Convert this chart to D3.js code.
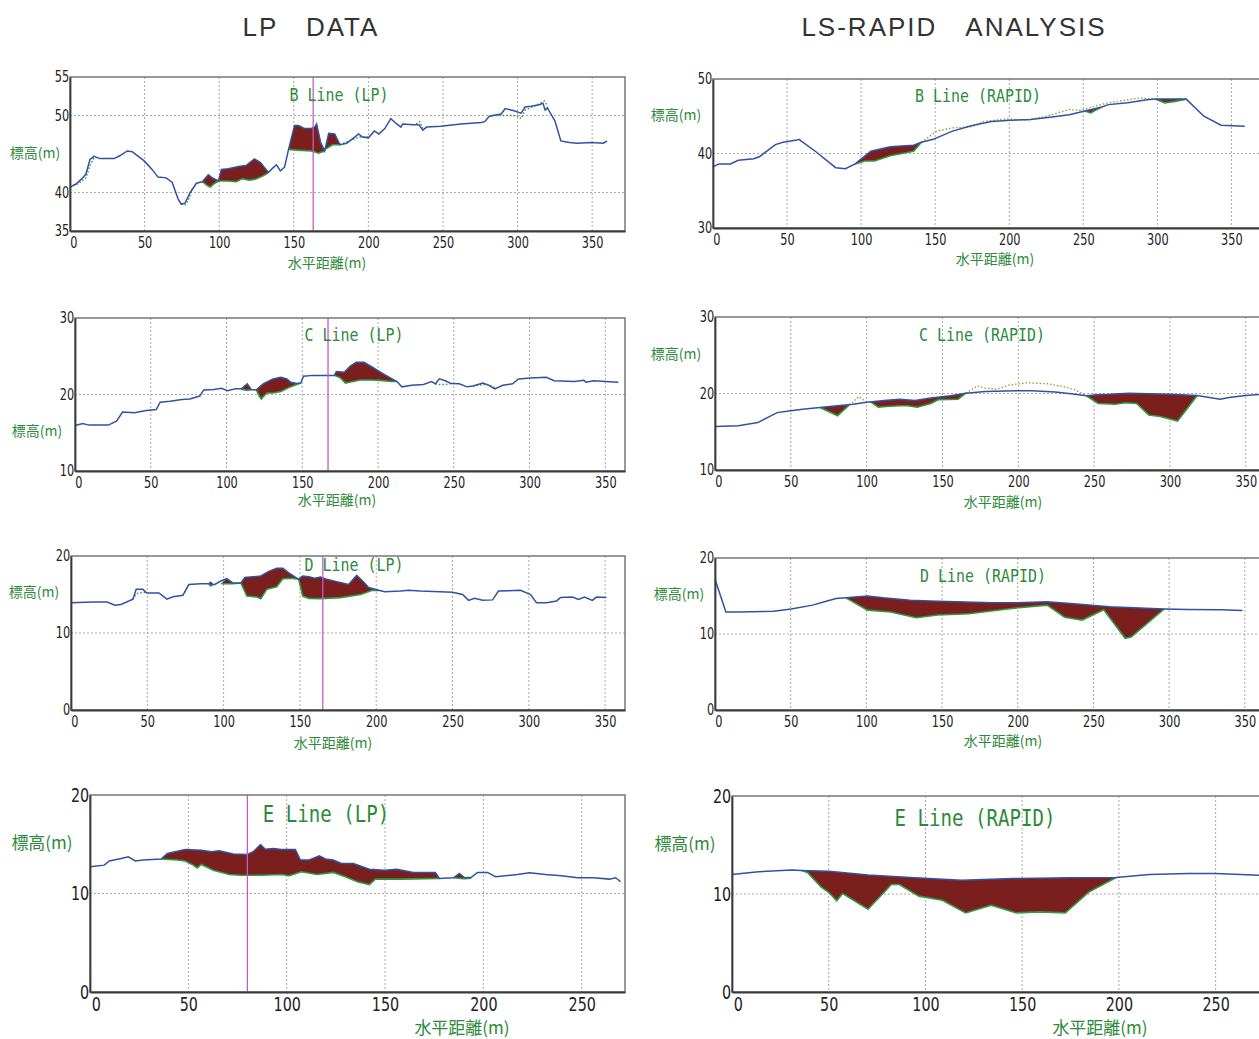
<!DOCTYPE html>
<html>
<head>
<meta charset="utf-8">
<script src="https://cdn.jsdelivr.net/npm/d3@7"></script>
<style>
  body { margin: 0; background: #fff; }
</style>
</head>
<body>
<div id="chart"></div>
<script>
// ---- data (distance m, elevation m) ----
const headings = ["LP\u3000DATA", "LS-RAPID\u3000ANALYSIS"];
const panelTitles = ["B Line (LP)", "B Line (RAPID)", "C Line (LP)", "C Line (RAPID)",
                     "D Line (LP)", "D Line (RAPID)", "E Line (LP)", "E Line (RAPID)"];

const xTicksLong = [0, 50, 100, 150, 200, 250, 300, 350];
const xTicksShort = [0, 50, 100, 150, 200, 250];
const yTicksBLp = [35, 40, 50, 55];
const yTicksBRapid = [30, 40, 50];
const yTicksC = [10, 20, 30];
const yTicksDE = [0, 10, 20];

// B line, LP
const bLpSurface = [[0,40.7],[4,41.1],[8,41.8],[10.7,42.4],[13.4,44.3],[16,44.7],[20,44.4],[29.6,44.4],[33.6,44.8],[38.4,45.4],[41.7,45.3],[49.7,44.1],[55,43],[59,42],[64.5,41.9],[68.5,41.3],[72.6,39.1],[74.5,38.5],[77,38.6],[80.6,40],[84.7,41.2],[88.7,41.4],[92.7,42.3],[95.4,41.9],[99.5,41.5],[101.5,43],[106,43.1],[111.5,43.3],[114,43.4],[118,43.5],[123.6,44.35],[127.7,43.9],[133,42.6],[136,43.2],[138.4,43.6],[141,42.8],[143.8,43.3],[146.5,45.6],[150.5,48.7],[153.2,48.7],[157.3,48.3],[161.3,48.3],[164,48.5],[165.3,48.9],[168,46.5],[170.7,45.4],[173.4,47.7],[177.4,47.6],[181,46.2],[185.5,46.4],[189.5,47],[193.5,47.6],[196,47.2],[200,47.1],[204,48],[207,47.6],[211,48.3],[215,49.6],[219,48.9],[221.8,48.5],[223,48.9],[229.8,48.8],[233.9,48.8],[236.5,48.1],[239,48.5],[248.6,48.6],[262,48.9],[275.5,49.1],[278,49.2],[281,49.9],[289,50.2],[291.7,50.9],[297,50.65],[302.4,50.3],[305,51.1],[309,51.2],[314.5,51.4],[317,51.6],[318.5,50.7],[320,51],[321,50.65],[325,49.3],[329,46.7],[334.7,46.5],[340,46.4],[349.4,46.5],[357.5,46.4],[360,46.7]];
const bLpBase = [
  [[88.7,41.4],[92,40.9],[94,40.7],[97,41.2],[99.5,41.5]],
  [[99.5,41.5],[106,41.5],[111.5,41.4],[115.5,41.8],[120,41.6],[123.6,41.7],[127.7,42],[131.6,42.4],[133,42.6]],
  [[146.5,45.6],[152,45.5],[162,45.4],[166.6,45.1],[170.7,45.4]],
  [[171,45.6],[176,46.2],[181,46.2]]
];
const bLpGround = [
  [[0,40.7],[6,41.2],[10.7,41.9],[13.4,43.5],[16,44.5]],
  [[74.5,38.5],[77.5,38.4],[80,39.3],[82,40.5]],
  [[181,46.2],[185.5,46.6],[190,46.9],[193.5,47.2],[200,47.2]],
  [[232,48.9],[234.5,49.2],[236.5,48.3]],
  [[283,50],[289,50],[297,50],[300,49.9],[302.4,49.6],[305,50.7],[314.5,51.5],[318,51.9],[320,51.2]]
];

// B line, RAPID
const bRapidSurface = [[0,38.2],[3.9,38.6],[11.8,38.6],[17.1,39.1],[27.6,39.3],[31.6,39.6],[42.1,41.2],[47.3,41.5],[56.5,41.8],[58,41.9],[69.7,40.2],[82.8,38.1],[89.4,37.95],[96,38.6],[106.5,40.3],[119.7,40.9],[135.4,41.1],[140.7,41.5],[148.6,41.9],[161.7,43],[175,43.75],[188,44.3],[201,44.46],[214.3,44.55],[227.5,44.87],[240.6,45.2],[251,45.7],[262,46.2],[267,46.56],[280,46.8],[293,47.2],[298.5,47.3],[319.5,47.3],[331.4,45],[343,43.8],[359,43.66]];
const bRapidBase = [
  [[96,38.6],[102.5,39],[109,39],[119.7,39.7],[135.4,40.3],[140.7,41.5]],
  [[251,45.7],[255,45.45],[262,46.2]],
  [[298.5,47.3],[305,46.8],[312,47],[319.5,47.3]]
];
const bRapidOriginal = [
  [[140.7,41.5],[151,43],[161.7,43.44],[175,43.6],[182.8,44.3],[198.6,44.64],[211.7,44.46],[224.9,45],[240.6,45.9],[248,45.8],[261.7,46.56],[267,46.8],[288,47.45],[298.5,47.3]]
];

// C line, LP
const cLpSurface = [[0,15.96],[5.2,16.2],[9,16],[22,16],[27.4,16.5],[31.4,17.7],[39.2,17.6],[47,17.9],[53.6,18.04],[56.2,19],[62.7,19.13],[70.6,19.35],[75.8,19.4],[82.3,19.8],[85,20.6],[91.5,20.65],[96.7,20.8],[100.6,20.5],[105.9,20.74],[109.8,20.74],[113.7,21.4],[116.3,20.65],[119.7,20.6],[124.2,21.4],[130.7,22.04],[135.9,22.26],[139.8,22.04],[142.5,21.6],[146.4,21.43],[149,21.5],[150.8,22.4],[156.8,22.5],[164.7,22.5],[171.2,22.5],[172.5,23],[177.7,22.9],[181.7,23.7],[185.6,24.2],[190.8,24.2],[196,23.6],[202.6,22.8],[207.8,22.2],[212.5,21.7],[215.7,21],[222.2,21.2],[230,21.3],[235.3,21.7],[237.9,21.4],[240.5,22.04],[244.4,21.8],[248.3,21.43],[253.6,21.4],[258.8,21],[262.7,21.1],[269.2,21.5],[273.2,21.2],[277,20.74],[282.3,21.2],[288.8,21.4],[292.7,22.04],[300.6,22.17],[311,22.26],[316.3,21.8],[329.4,21.7],[335.9,21.87],[337.2,21.6],[342.4,21.8],[350.3,21.7],[358.6,21.6]];
const cLpBase = [
  [[109.8,20.7],[113,20.55],[116.3,20.6]],
  [[119.7,20.6],[121.6,19.8],[123,19.4],[124.2,19.7],[126.8,20.2],[130.7,20.2],[135.9,20.4],[141,20.9],[146.4,21.3],[149,21.5]],
  [[171.2,22.5],[175,22.2],[178.5,21.5],[183.5,21.7],[188,21.9],[196,21.9],[201,21.85],[209,21.7],[212.5,21.7]]
];
const cLpGround = [
  [[237.9,21.4],[240.5,21.3],[244.4,21.3],[248.3,21.43]],
  [[262.7,21.1],[269.2,21.3],[273.2,21.3],[277,20.9]]
];

// C line, RAPID
const cRapidSurface = [[0,15.7],[15.4,15.8],[28.2,16.2],[41,17.5],[48.7,17.7],[57.7,17.95],[69.2,18.17],[80.8,18.4],[91,18.6],[100,18.86],[111.5,19.08],[121.8,19.25],[132,19.08],[142.3,19.4],[155.1,19.7],[165.4,20.04],[178.2,20.26],[198.7,20.35],[209,20.35],[224.4,20.2],[234.6,19.96],[244.9,19.7],[252,19.85],[260,19.9],[273,20.04],[286,19.96],[300,19.9],[318,19.74],[325,19.5],[333,19.25],[340,19.5],[350,19.75],[362,19.9]];
const cRapidBase = [
  [[69.2,18.17],[80.8,17.1],[88.5,18.5]],
  [[102.6,18.9],[107.7,18.2],[112.8,18.3],[121.8,18.4],[126.9,18.4],[133.3,18.2],[142.3,18.7],[147.4,19.2],[160.3,19.25],[165.4,20.04]],
  [[244.9,19.7],[252.6,18.7],[264,18.6],[270.5,18.8],[278,18.7],[286,17.2],[293.6,17],[305,16.4],[318,19.74]]
];
const cRapidOriginal = [
  [[88.5,18.5],[94.9,19.6],[100,18.86]],
  [[165.4,20.04],[173,21],[178.2,20.7],[185.9,20.57],[193.6,21.1],[206.4,21.4],[219.2,21.27],[229.5,20.9],[237.2,20.5],[244.9,19.7]]
];

// D line, LP
const dLpSurface = [[0,13.94],[14.4,14.03],[23.6,14.03],[28.8,13.6],[32.7,13.7],[40.6,14.4],[42.7,15.67],[47.1,15.67],[49.7,15.2],[57.6,15.2],[62.8,14.4],[66.8,14.7],[73.3,14.9],[77.2,16.3],[85.1,16.4],[90.3,16.4],[91.5,16.6],[93,16.3],[94.2,16.3],[98.2,16.75],[102.1,17.05],[106,16.5],[111.3,16.5],[113.9,17.2],[124.4,17.4],[129.6,18],[134.8,18.4],[138.8,18.4],[142.7,17.8],[149.2,16.97],[151.8,17.4],[155.8,17.3],[159.7,17.1],[163.6,17.27],[167.6,16.97],[174.1,16.67],[181.9,16.3],[187.2,17.5],[191.1,16.75],[195,15.9],[201.6,15.54],[205.5,15.37],[216,15.45],[221.2,15.55],[229,15.45],[250,15.3],[256.6,15],[260.5,14.24],[264.4,14.5],[269.7,14.24],[276.2,14.3],[280.1,15.45],[294.5,15.54],[301.1,15],[305,13.94],[311.5,13.94],[318.1,14.15],[320.7,14.6],[328.6,14.67],[332.5,14.37],[336.4,14.67],[341.6,14.24],[344.3,14.67],[350.8,14.6]];
const dLpBase = [
  [[90.3,16.4],[91.5,16.1],[93,16.3]],
  [[98.2,16.4],[106,16.4],[111.3,16.5]],
  [[111.3,16.5],[115.2,14.8],[121.7,14.67],[124.4,14.46],[128.3,15.67],[134.8,16],[138.8,17.05],[144,17.1],[149.2,16.97]],
  [[149.2,16.97],[151.8,14.8],[155.8,14.5],[163.6,14.46],[176.6,14.6],[189.8,15],[197.5,15.54],[201.6,15.54]]
];
const dLpGround = [
  [[40.6,14.4],[42.7,15.1],[47.1,15.3],[49.7,15.2]],
  [[73.3,14.9],[75,15.4],[77.2,16.3]]
];

// D line, RAPID
const dRapidSurface = [[0,17.2],[7.2,12.9],[15.5,12.9],[38.7,13],[50.3,13.3],[64.5,13.8],[72.3,14.24],[80,14.67],[86.5,14.76],[100.7,15],[111,14.76],[129,14.45],[147.1,14.3],[183.2,14.1],[198.7,14.1],[219.4,14.24],[234.9,14],[260.7,13.58],[296.8,13.3],[312.3,13.23],[334.2,13.19],[348.4,13.1]];
const dRapidBase = [
  [[86.5,14.76],[100.7,13.14],[116,12.9],[133,12.14],[147,12.5],[167.8,12.66],[196,13.36],[219.4,13.8],[231,12.2],[242.6,11.83],[256.8,13.19],[271,9.43],[274.9,9.6],[296.8,13.3]]
];

// E line, LP
const eLpSurface = [[0,12.71],[7.3,12.88],[9.8,13.3],[15.9,13.56],[19.5,13.73],[23,13.3],[27,13.4],[36.2,13.5],[39.3,14.07],[44.4,14.3],[48.4,14.47],[56.6,14.4],[61.7,14.24],[65.7,14.34],[72.9,14],[80,13.97],[83,14.24],[86.7,14.98],[89.1,14.5],[93.2,14.58],[97.3,14.47],[104.4,14.47],[107,13.4],[111.5,13.4],[116.6,13.83],[119.7,13.5],[123.7,13.4],[127.8,13.05],[133.9,13.05],[142,12.47],[149.8,12.37],[156,12.47],[164.4,12.14],[175.6,12.14],[177.6,11.53],[184.8,11.6],[187.8,12.03],[190.5,11.6],[193.9,11.65],[197,12.14],[202.1,12.14],[206.2,11.7],[217.3,11.93],[223.4,12.1],[231.6,11.93],[239.7,11.8],[247.9,11.6],[256,11.6],[264.1,11.46],[267.2,11.6],[269.8,11.19]];
const eLpBase = [
  [[36.2,13.5],[44.4,13.4],[48.4,13.3],[52.5,12.88],[54.5,12.6],[56.6,12.95],[62.7,12.37],[70.8,11.93],[76.9,11.86],[87,11.86],[97.3,11.93],[101.3,11.8],[107.4,12.2],[115.5,11.93],[123.7,12.14],[129.8,11.7],[135.9,11.19],[142,10.9],[145.1,11.46],[158,11.46],[177.6,11.53]],
  [[184.8,11.6],[190,11.5],[193.9,11.55]]
];

// E line, RAPID
const eRapidSurface = [[0,12],[13.7,12.27],[30.9,12.44],[36,12.4],[50.1,12.33],[70.3,11.93],[94.5,11.65],[118.8,11.41],[145,11.58],[175.3,11.65],[198.6,11.69],[215.7,12],[236,12.1],[250,12.1],[269.3,11.93],[280,11.85]];
const eRapidBase = [
  [[36,12.4],[39,12.2],[46,10.73],[50.1,10.15],[54.1,9.3],[57.2,10.05],[70.3,8.45],[82.4,10.97],[86.5,10.97],[96.6,9.78],[108.7,9.37],[120.8,8.07],[133.9,8.86],[147,8.07],[159.2,8.18],[172.3,8.07],[184.4,10.2],[198.6,11.69]]
];

// section marker positions (LP panels)
const markerB = 163, markerC = 167, markerD = 165, markerE = 80;

// ---- layout ----
const width = 1259, height = 1039;
const svg = d3.select("#chart").append("svg")
    .attr("width", width)
    .attr("height", height)
    .style("font-family", "'Liberation Sans', Arial, sans-serif");

const colors = {
  surface: "#3152a3",
  base: "#2f9a42",
  fill: "#7a1e1e",
  original: "#a39a35",
  marker: "#c45cc4",
  grid: "#a8a8a8",
  label: "#2d8a3a"
};

const panels = [
  {left: 70, top: 77, right: 625, bottom: 231, xMax: 372, yDomain: [35, 55], yTicks: yTicksBLp, xTicks: xTicksLong,
   surface: bLpSurface, base: bLpBase, dotted: bLpGround, dotColor: colors.base, marker: markerB, title: panelTitles[0],
   titlePos: [339, 95], yLab: [35, 152], xLab: [327, 262], big: false},
  {left: 713, top: 79, right: 1264, bottom: 228, xMax: 372, yDomain: [30, 50], yTicks: yTicksBRapid, xTicks: xTicksLong,
   surface: bRapidSurface, base: bRapidBase, dotted: bRapidOriginal, dotColor: colors.original, title: panelTitles[1],
   titlePos: [978, 96], yLab: [676, 114], xLab: [995, 258], big: false},
  {left: 75, top: 318, right: 625, bottom: 471, xMax: 363, yDomain: [10, 30], yTicks: yTicksC, xTicks: xTicksLong,
   surface: cLpSurface, base: cLpBase, dotted: cLpGround, dotColor: colors.base, marker: markerC, title: panelTitles[2],
   titlePos: [354, 335], yLab: [37, 430], xLab: [337, 499], big: false},
  {left: 715, top: 317, right: 1264, bottom: 470, xMax: 362, yDomain: [10, 30], yTicks: yTicksC, xTicks: xTicksLong,
   surface: cRapidSurface, base: cRapidBase, dotted: cRapidOriginal, dotColor: colors.original, title: panelTitles[3],
   titlePos: [982, 335], yLab: [676, 353], xLab: [1003, 501], big: false},
  {left: 71, top: 556, right: 625, bottom: 710, xMax: 363, yDomain: [0, 20], yTicks: yTicksDE, xTicks: xTicksLong,
   surface: dLpSurface, base: dLpBase, dotted: dLpGround, dotColor: colors.base, marker: markerD, title: panelTitles[4],
   titlePos: [354, 565], yLab: [34, 591], xLab: [333, 742], big: false},
  {left: 715, top: 558, right: 1266, bottom: 710, xMax: 364, yDomain: [0, 20], yTicks: yTicksDE, xTicks: xTicksLong,
   surface: dRapidSurface, base: dRapidBase, dotted: [], dotColor: colors.original, title: panelTitles[5],
   titlePos: [983, 576], yLab: [679, 593], xLab: [1003, 740], big: false},
  {left: 90, top: 795, right: 625, bottom: 992, xMax: 272, yDomain: [0, 20], yTicks: yTicksDE, xTicks: xTicksShort,
   surface: eLpSurface, base: eLpBase, dotted: [], dotColor: colors.base, marker: markerE, title: panelTitles[6],
   titlePos: [326, 814], yLab: [42, 841], xLab: [462, 1026], big: true},
  {left: 732, top: 796, right: 1264, bottom: 992, xMax: 275, yDomain: [0, 20], yTicks: yTicksDE, xTicks: xTicksShort,
   surface: eRapidSurface, base: eRapidBase, dotted: [], dotColor: colors.original, title: panelTitles[7],
   titlePos: [975, 818], yLab: [685, 842], xLab: [1100, 1026], big: true}
];

// column headings
svg.selectAll("text.heading")
  .data(headings)
  .join("text")
    .attr("class", "heading")
    .attr("x", (d, i) => i === 0 ? 311 : 954)
    .attr("y", 27)
    .attr("text-anchor", "middle")
    .attr("dominant-baseline", "central")
    .attr("font-size", 26)
    .attr("letter-spacing", 2)
    .attr("fill", "#333")
    .text(d => d);

function drawPanel(p) {
  const x = d3.scaleLinear().domain([0, p.xMax]).range([p.left, p.right]);
  const y = d3.scaleLinear().domain(p.yDomain).range([p.bottom, p.top]);
  const g = svg.append("g");
  const tickSize = p.big ? 19 : 15;
  const labSize = p.big ? 17 : 14;

  // grid
  g.selectAll("line.vgrid")
    .data(p.xTicks.filter(d => d > 0))
    .join("line")
      .attr("x1", d => x(d)).attr("x2", d => x(d))
      .attr("y1", p.top).attr("y2", p.bottom)
      .attr("stroke", colors.grid)
      .attr("stroke-dasharray", "2,2");
  g.selectAll("line.hgrid")
    .data(p.yTicks.filter(d => d > p.yDomain[0] && d < p.yDomain[1]))
    .join("line")
      .attr("x1", p.left).attr("x2", p.right)
      .attr("y1", d => y(d)).attr("y2", d => y(d))
      .attr("stroke", colors.grid)
      .attr("stroke-dasharray", "2,2");

  const line = d3.line().x(d => x(d[0])).y(d => y(d[1]));

  // filled areas between the surface and the base segments
  p.base.forEach(seg => {
    const x0 = seg[0][0], x1 = seg[seg.length - 1][0];
    const top = p.surface.filter(d => d[0] > x0 && d[0] < x1).reverse();
    g.append("path")
      .attr("d", line(seg.concat(top)) + "Z")
      .attr("fill", colors.fill)
      .attr("stroke", "none");
  });

  // dotted lines (green ground for LP, olive original for RAPID)
  p.dotted.forEach(seg => {
    g.append("path")
      .attr("d", line(seg))
      .attr("fill", "none")
      .attr("stroke", p.dotColor)
      .attr("stroke-width", 1.4)
      .attr("stroke-dasharray", "1.5,2");
  });

  // base lines
  p.base.forEach(seg => {
    g.append("path")
      .attr("d", line(seg))
      .attr("fill", "none")
      .attr("stroke", colors.base)
      .attr("stroke-width", 1.6);
  });

  // surface line
  g.append("path")
    .attr("d", line(p.surface))
    .attr("fill", "none")
    .attr("stroke", colors.surface)
    .attr("stroke-width", 1.5);

  // section marker
  if (p.marker !== undefined) {
    g.append("line")
      .attr("x1", x(p.marker)).attr("x2", x(p.marker))
      .attr("y1", p.top).attr("y2", p.bottom)
      .attr("stroke", colors.marker)
      .attr("stroke-width", 1.3);
  }

  // frame
  g.append("rect")
    .attr("x", p.left).attr("y", p.top)
    .attr("width", p.right - p.left).attr("height", p.bottom - p.top)
    .attr("fill", "none")
    .attr("stroke", "#777")
    .attr("stroke-width", 1.5);

  // axes
  const xAxis = g.append("g")
    .attr("transform", `translate(0,${p.bottom})`)
    .call(d3.axisBottom(x).tickValues(p.xTicks).tickSize(0).tickPadding(p.big ? 6 : 6).tickFormat(d3.format("d")));
  const yAxis = g.append("g")
    .attr("transform", `translate(${p.left},0)`)
    .call(d3.axisLeft(y).tickValues(p.yTicks).tickSize(0).tickPadding(1).tickFormat(d3.format("d")));
  [xAxis, yAxis].forEach(a => {
    a.select(".domain").attr("stroke", "#3a3a3a").attr("stroke-width", 1.8);
    a.selectAll("text")
      .attr("font-family", "'Liberation Sans Narrow', 'DejaVu Sans Condensed', 'Arial Narrow', sans-serif")
      .attr("font-size", tickSize)
      .attr("transform", "scale(0.84,1)")
      .attr("fill", "#222");
  });
  xAxis.selectAll("text").attr("dx", d => d === 0 ? (p.big ? 7 : 4) : 0);

  // axis titles
  g.append("text")
    .attr("x", p.yLab[0]).attr("y", p.yLab[1])
    .attr("text-anchor", "middle")
    .attr("dominant-baseline", "central")
    .attr("font-family", "'Noto Sans CJK JP', sans-serif")
    .attr("font-size", labSize)
    .attr("fill", colors.label)
    .text("標高(m)");
  g.append("text")
    .attr("x", p.xLab[0]).attr("y", p.xLab[1])
    .attr("text-anchor", "middle")
    .attr("dominant-baseline", "central")
    .attr("font-family", "'Noto Sans CJK JP', sans-serif")
    .attr("font-size", labSize)
    .attr("fill", colors.label)
    .text("水平距離(m)");

  // panel title
  g.append("g")
    .attr("transform", `translate(${p.titlePos[0]},${p.titlePos[1]}) scale(0.83,1)`)
    .append("text")
      .attr("text-anchor", "middle")
      .attr("dominant-baseline", "central")
      .attr("font-family", "'DejaVu Sans Mono', monospace")
      .attr("font-size", p.big ? 23 : 18)
      .attr("fill", colors.label)
      .text(p.title);
}

panels.forEach(drawPanel);
</script>
</body>
</html>
